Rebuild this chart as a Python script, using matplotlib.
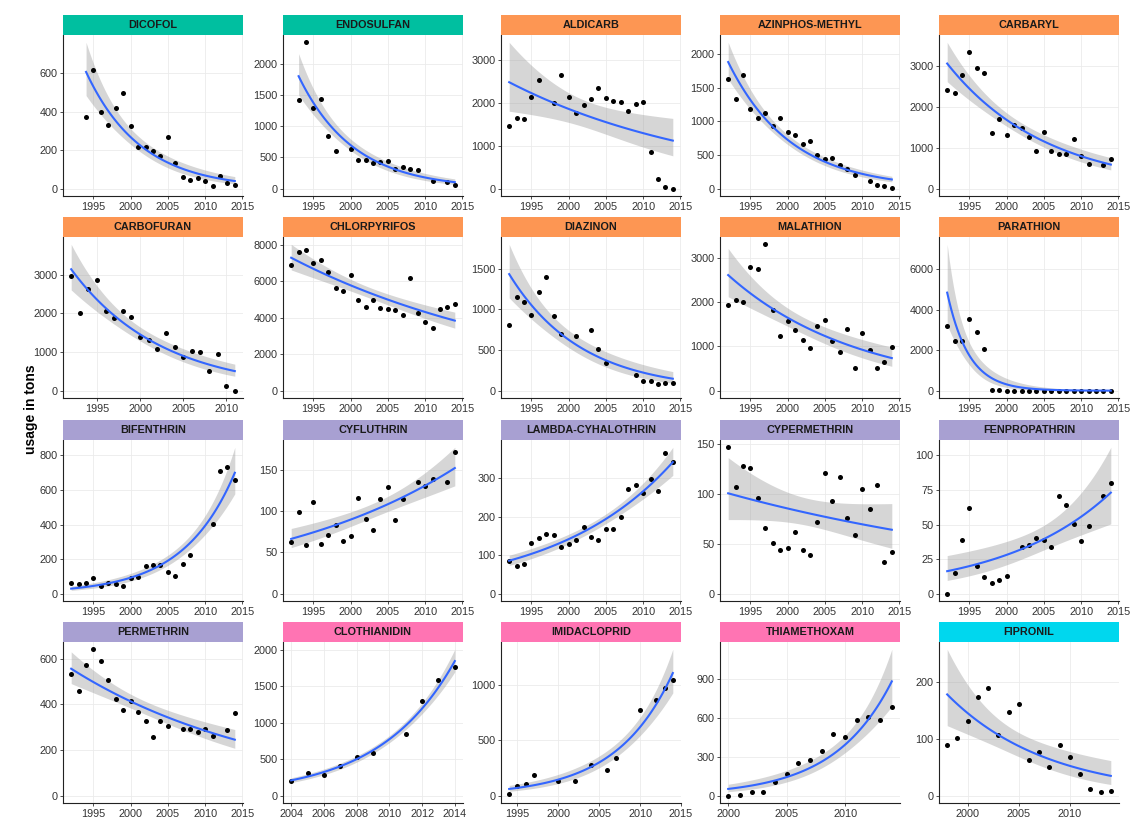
import numpy as np
import matplotlib
matplotlib.use("Agg")
import matplotlib.pyplot as plt
from matplotlib.ticker import MultipleLocator

nan = np.nan

# yearly usage in tons, NaN where a year has no record
dicofol = [nan, nan, 373, 618, 396, 333, 419, 497, 324, 217, 217, 196, 170, 266, 131, 60, 47, 56, 39, 16, 65, 28, 21]
endosulfan = [nan, 1414, 2344, 1290, 1435, 844, 608, nan, 640, 457, 452, 414, 430, 446, 323, 350, 323, 296, nan, 124, nan, 108, 65]
aldicarb = [1465, 1652, 1621, 2120, 2525, nan, 1988, 2650, 2120, 1754, 1941, 2081, 2338, 2096, 2042, 2003, 1800, 1964, 2011, 857, 218, 39, 0]
azinphos = [1630, 1340, 1690, 1180, 1050, 1120, 925, 1055, 850, 805, 660, 710, 500, 435, 450, 345, 295, 205, nan, 110, 60, 40, 10]
carbaryl = [2410, 2328, 2762, 3328, 2943, 2820, 1361, 1689, 1320, 1549, 1475, 1262, 918, 1393, 926, 836, 844, 1205, 795, 607, nan, 582, 730]
carbofuran = [2975, 2003, 2637, 2871, 2055, 1882, 2055, 1908, 1388, 1318, 1084, 1492, 1119, 859, 1032, 997, 503, 954, 113, 0]
chlorpyrifos = [6899, 7578, 7706, 6991, 7174, 6514, 5615, 5450, 6312, 4991, 4587, 4991, 4550, 4477, 4422, 4165, 6147, 4239, 3780, 3413, 4495, 4606, 4752]
diazinon = [810, 1145, 1091, 934, 1215, 1401, 913, 694, nan, 674, nan, 740, 512, 343, nan, nan, nan, 190, 124, 116, 83, 95, 95]
malathion = [1947, 2053, 2008, 2788, 2758, 3311, 1833, 1235, 1583, 1379, 1152, 955, 1470, 1591, 1114, 871, 1402, 515, 1311, 909, 508, 644, 977]
parathion = [3217, 2433, 2433, 3517, 2900, 2050, 50, 17, 8, 5, 6, 4, 3, 2, 2, 1, 1, 1, 1, 1, 0, 0, 0]
bifenthrin = [64, 54, 60, 91, 47, 64, 54, 47, 91, 95, 161, 165, 167, 124, 103, 171, 221, nan, nan, 404, 709, 734, 660]
cyfluthrin = [62.7, 98.9, 59.4, 111, 59.8, 71.2, 83.8, 64.3, 70.4, 115.6, 91.2, 76.9, 114.4, 129, 89.5, 114.4, nan, 136, 131, 139, nan, 135.5, 172]
lambda_cy = [85, 71, 77, 131, 144, 155, 153, 120, 128, 140, 172, 147, 140, 167, 167, 200, 273, 281, 261, 299, 267, 365, 343]
cypermethrin = [146.3, 106.4, 127.5, 125.8, 96, 66.1, 50.3, 44, 45.3, 61.7, 43.3, 38.9, 71.5, 120.5, 92.3, 116.4, 75.8, 59.1, 105, 84.6, 109, 31.9, 41.3]
fenpropathrin = [0, 15, 38.8, 61.7, 20.1, 11.9, 7.5, 10, 12.9, nan, 33.7, 35, 40.5, 39.1, 33.5, 70.6, 64.1, 50.7, 38.1, 49, nan, 70.9, 79.9]
permethrin = [531, 457, 574, 641, 588, 506, 425, 374, 416, 366, 326, 257, 325, 304, nan, 293, 294, 281, 293, 260, nan, 287, 363]
clothianidin = [197, 317, 280, 413, 523, 583, nan, 844, 1298, 1583, 1761]
imidacloprid = [12, 85, 106, 190, nan, nan, 133, nan, 133, nan, 275, nan, 230, 341, nan, nan, 776, nan, 864, 970, 1045]
thiamethoxam = [0, 5, 28, 28, 103, 166, 256, 274, 347, 478, 453, 582, 608, 582, 683]
fipronil = [90, 101, 131, 173, 190, 107, 147, 162, 63, 77, 51, 89, 68, 39, 11, 6, 8]

# (title, first year, values, class)
panels = [
    ("DICOFOL", 1992, dicofol, "oc"),
    ("ENDOSULFAN", 1992, endosulfan, "oc"),
    ("ALDICARB", 1992, aldicarb, "op"),
    ("AZINPHOS-METHYL", 1992, azinphos, "op"),
    ("CARBARYL", 1992, carbaryl, "op"),
    ("CARBOFURAN", 1992, carbofuran, "op"),
    ("CHLORPYRIFOS", 1992, chlorpyrifos, "op"),
    ("DIAZINON", 1992, diazinon, "op"),
    ("MALATHION", 1992, malathion, "op"),
    ("PARATHION", 1992, parathion, "op"),
    ("BIFENTHRIN", 1992, bifenthrin, "pyr"),
    ("CYFLUTHRIN", 1992, cyfluthrin, "pyr"),
    ("LAMBDA-CYHALOTHRIN", 1992, lambda_cy, "pyr"),
    ("CYPERMETHRIN", 1992, cypermethrin, "pyr"),
    ("FENPROPATHRIN", 1992, fenpropathrin, "pyr"),
    ("PERMETHRIN", 1992, permethrin, "pyr"),
    ("CLOTHIANIDIN", 2004, clothianidin, "neo"),
    ("IMIDACLOPRID", 1994, imidacloprid, "neo"),
    ("THIAMETHOXAM", 2000, thiamethoxam, "neo"),
    ("FIPRONIL", 1998, fipronil, "pp"),
]

y_steps = [200, 500, 1000, 500, 1000, 1000, 2000, 500, 1000, 2000,
           200, 50, 100, 50, 25, 200, 500, 500, 300, 100]

strip_colors = {"oc": "#00BFA0", "op": "#FD9653", "pyr": "#A8A0D2",
                "neo": "#FF74B3", "pp": "#00D7EE"}


def quasipoisson_smooth(x, y, n=80, level=0.95):
    # log-link GLM fitted by IRLS, dispersion estimated from Pearson residuals
    xc = x.mean()
    X = np.column_stack([np.ones_like(x), x - xc])
    mu = np.maximum(y, 1e-3) + 0.1
    eta = np.log(mu)
    beta = np.zeros(2)
    for _ in range(100):
        z = eta + (y - mu) / mu
        W = mu
        XtW = X.T * W
        beta_new = np.linalg.solve(XtW @ X, XtW @ z)
        eta = X @ beta_new
        mu = np.exp(eta)
        if np.allclose(beta_new, beta, rtol=1e-10, atol=1e-12):
            beta = beta_new
            break
        beta = beta_new
    phi = np.sum((y - mu) ** 2 / mu) / (len(y) - 2)
    cov = phi * np.linalg.inv((X.T * mu) @ X)
    xg = np.linspace(x.min(), x.max(), n)
    Xg = np.column_stack([np.ones_like(xg), xg - xc])
    eg = Xg @ beta
    se = np.sqrt(np.einsum("ij,jk,ik->i", Xg, cov, Xg))
    q = 1.959964
    return xg, np.exp(eg), np.exp(eg - q * se), np.exp(eg + q * se)


plt.rcParams["font.family"] = ["Liberation Sans", "DejaVu Sans"]

W, H = 1131, 817
fig = plt.figure(figsize=(W / 100, H / 100), dpi=100)

col_left = [63, 283, 501, 720, 939]
strip_top = [15, 217, 420, 622]
panel_w, strip_h, panel_h = 180, 20, 161

for i, (name, start, vals, cls) in enumerate(panels):
    r, c = divmod(i, 5)
    x0 = col_left[c]
    top = strip_top[r] + strip_h
    ax = fig.add_axes([x0 / W, 1 - (top + panel_h) / H, panel_w / W, panel_h / H])
    sx = fig.add_axes([x0 / W, 1 - (strip_top[r] + strip_h) / H, panel_w / W, strip_h / H])

    years = np.arange(start, start + len(vals))
    vals = np.array(vals, dtype=float)
    ok = ~np.isnan(vals)
    xg, fit, lo, hi = quasipoisson_smooth(years[ok].astype(float), vals[ok])

    ax.fill_between(xg, lo, hi, color="#999999", alpha=0.4, lw=0, zorder=2)
    ax.scatter(years[ok], vals[ok], s=13, color="black", lw=0, zorder=3)
    ax.plot(xg, fit, color="#3366FF", lw=1.5, zorder=4)

    # x range padded by 5%, y range from zero up to the highest point or band
    span = years[-1] - years[0]
    ax.set_xlim(years[0] - 0.05 * span, years[-1] + 0.05 * span)
    ytop = max(np.nanmax(vals), hi.max())
    ax.set_ylim(-0.05 * ytop, 1.05 * ytop)
    ax.xaxis.set_major_locator(MultipleLocator(2 if name == "CLOTHIANIDIN" else 5))
    ax.yaxis.set_major_locator(MultipleLocator(y_steps[i]))

    ax.grid(color="#EBEBEB", lw=0.6)
    ax.set_axisbelow(True)
    for side in ("top", "right"):
        ax.spines[side].set_visible(False)
    for side in ("left", "bottom"):
        ax.spines[side].set_color("#222222")
        ax.spines[side].set_linewidth(0.8)
    ax.tick_params(direction="out", length=2.5, width=0.6, color="#333333",
                   labelsize=7.8, labelcolor="#333333", pad=1.5)

    sx.set_facecolor(strip_colors[cls])
    sx.set_xticks([])
    sx.set_yticks([])
    for sp in sx.spines.values():
        sp.set_visible(False)
    sx.text(0.5, 0.48, name, ha="center", va="center", fontsize=7.8,
            fontweight="bold", color="#1A1A1A", transform=sx.transAxes)

fig.text(31 / W, 1 - 409 / H, "usage in tons", rotation=90, ha="center",
         va="center", fontsize=10, fontweight="bold", color="black")

fig.savefig("out.png", dpi=100)
